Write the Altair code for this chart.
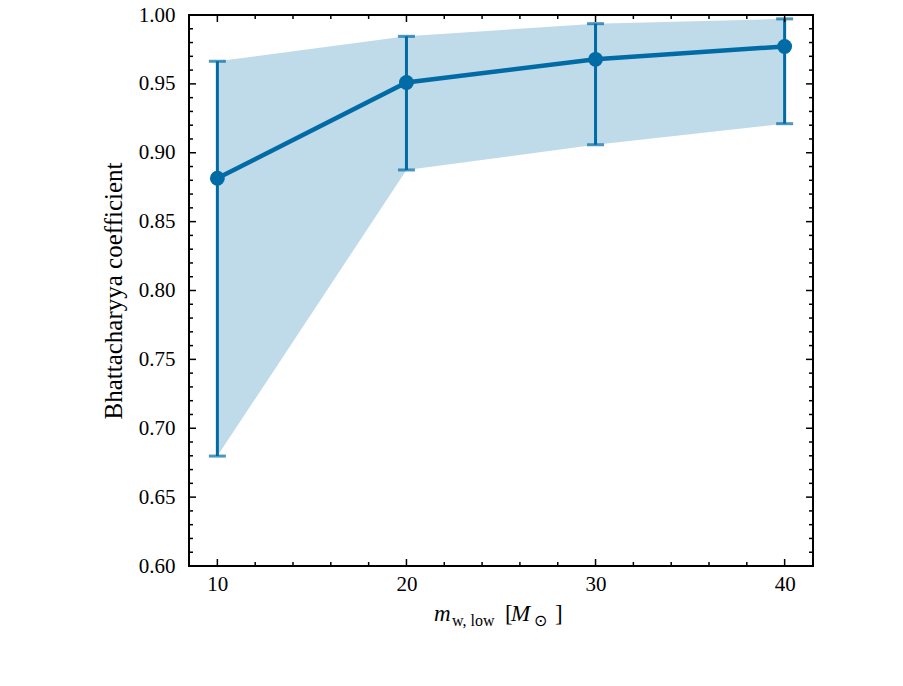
import altair as alt
import pandas as pd

# data
mass = [10, 20, 30, 40]
bc_median = [0.8815, 0.9510, 0.9678, 0.9772]
bc_lower = [0.6798, 0.8875, 0.9058, 0.9211]
bc_upper = [0.9664, 0.9845, 0.9937, 0.9972]

x_major = [10, 20, 30, 40]
x_minor = [12, 14, 16, 18, 22, 24, 26, 28, 32, 34, 36, 38]
y_major = [0.60, 0.65, 0.70, 0.75, 0.80, 0.85, 0.90, 0.95, 1.00]
y_minor = [round(0.60 + 0.01 * i, 2) for i in range(41) if i % 5 != 0]

W, H = 624, 551
BLUE = "#006BA4"
FONT = "Liberation Serif"

df = pd.DataFrame({"m": mass, "bc": bc_median, "lo": bc_lower, "hi": bc_upper})

xs = alt.Scale(domain=[8.5, 41.5], nice=False, zero=False)
ys = alt.Scale(domain=[0.60, 1.00], nice=False, zero=False)

xax = alt.Axis(values=x_major, format="d", ticks=False, domain=False, grid=False,
               labelFont=FONT, labelFontSize=21, labelColor="black", labelPadding=7,
               title=None)
yax = alt.Axis(values=y_major, format=".2f", ticks=False, domain=False, grid=False,
               labelFont=FONT, labelFontSize=21, labelColor="black", labelPadding=14,
               title="Bhattacharyya coefficient", titleFont=FONT, titleFontSize=25,
               titleFontWeight="normal", titleColor="black", titlePadding=12)

def X(f):
    return alt.X(f, scale=xs, axis=xax)

def Y(f):
    return alt.Y(f, scale=ys, axis=yax)

base = alt.Chart(df)

band = base.mark_area(color=BLUE, opacity=0.25).encode(x=X("m:Q"), y=Y("lo:Q"), y2="hi:Q")
err = base.mark_rule(color=BLUE, strokeWidth=3).encode(x=X("m:Q"), y=Y("lo:Q"), y2="hi:Q")
cap_lo = base.mark_tick(color=BLUE, thickness=3, size=17, orient="horizontal").encode(
    x=X("m:Q"), y=Y("lo:Q"))
cap_hi = base.mark_tick(color=BLUE, thickness=3, size=17, orient="horizontal").encode(
    x=X("m:Q"), y=Y("hi:Q"))
line = base.mark_line(color=BLUE, strokeWidth=4.5).encode(x=X("m:Q"), y=Y("bc:Q"))
pts = base.mark_point(color=BLUE, filled=True, opacity=1, size=220).encode(
    x=X("m:Q"), y=Y("bc:Q"))

# inward ticks on all four sides
def xticks(vals, length):
    d = alt.Chart(pd.DataFrame({"m": vals}))
    bot = d.mark_rule(color="black", strokeWidth=1.5).encode(
        x=X("m:Q"), y=alt.value(H), y2=alt.value(H - length))
    top = d.mark_rule(color="black", strokeWidth=1.5).encode(
        x=X("m:Q"), y=alt.value(0), y2=alt.value(length))
    return [bot, top]

def yticks(vals, length):
    d = alt.Chart(pd.DataFrame({"lo": vals}))
    left = d.mark_rule(color="black", strokeWidth=1.5).encode(
        y=Y("lo:Q"), x=alt.value(0), x2=alt.value(length))
    right = d.mark_rule(color="black", strokeWidth=1.5).encode(
        y=Y("lo:Q"), x=alt.value(W), x2=alt.value(W - length))
    return [left, right]

ticks = xticks(x_major, 7) + xticks(x_minor, 4) + yticks(y_major, 7) + yticks(y_minor, 4)

# x-axis title pieces: m_{w, low} [M_sun]
one = alt.Chart(pd.DataFrame({"a": [0]}))
def txt(s, x, y, size, style="normal"):
    return one.mark_text(text=s, font=FONT, fontSize=size, fontStyle=style, color="black",
                         align="left", baseline="alphabetic").encode(
        x=alt.value(x), y=alt.value(y))

title_parts = [
    txt("m", 245, 606, 23, "italic"),
    txt("w, low", 263, 611, 16),
    txt("[", 316, 606, 23),
    txt("M", 322, 606, 23, "italic"),
    txt("\u2299", 345, 611, 16),
    txt("]", 366, 606, 23),
]

chart = alt.layer(band, err, cap_lo, cap_hi, line, pts, *ticks, *title_parts).properties(
    width=W, height=H,
    autosize=alt.AutoSizeParams(type="none"),
    padding={"left": 189, "top": 15, "right": 90, "bottom": 120},
).configure(background="white").configure_view(stroke="black", strokeWidth=2)

chart.save("out.html", embed_options={"renderer": "svg", "actions": False})
